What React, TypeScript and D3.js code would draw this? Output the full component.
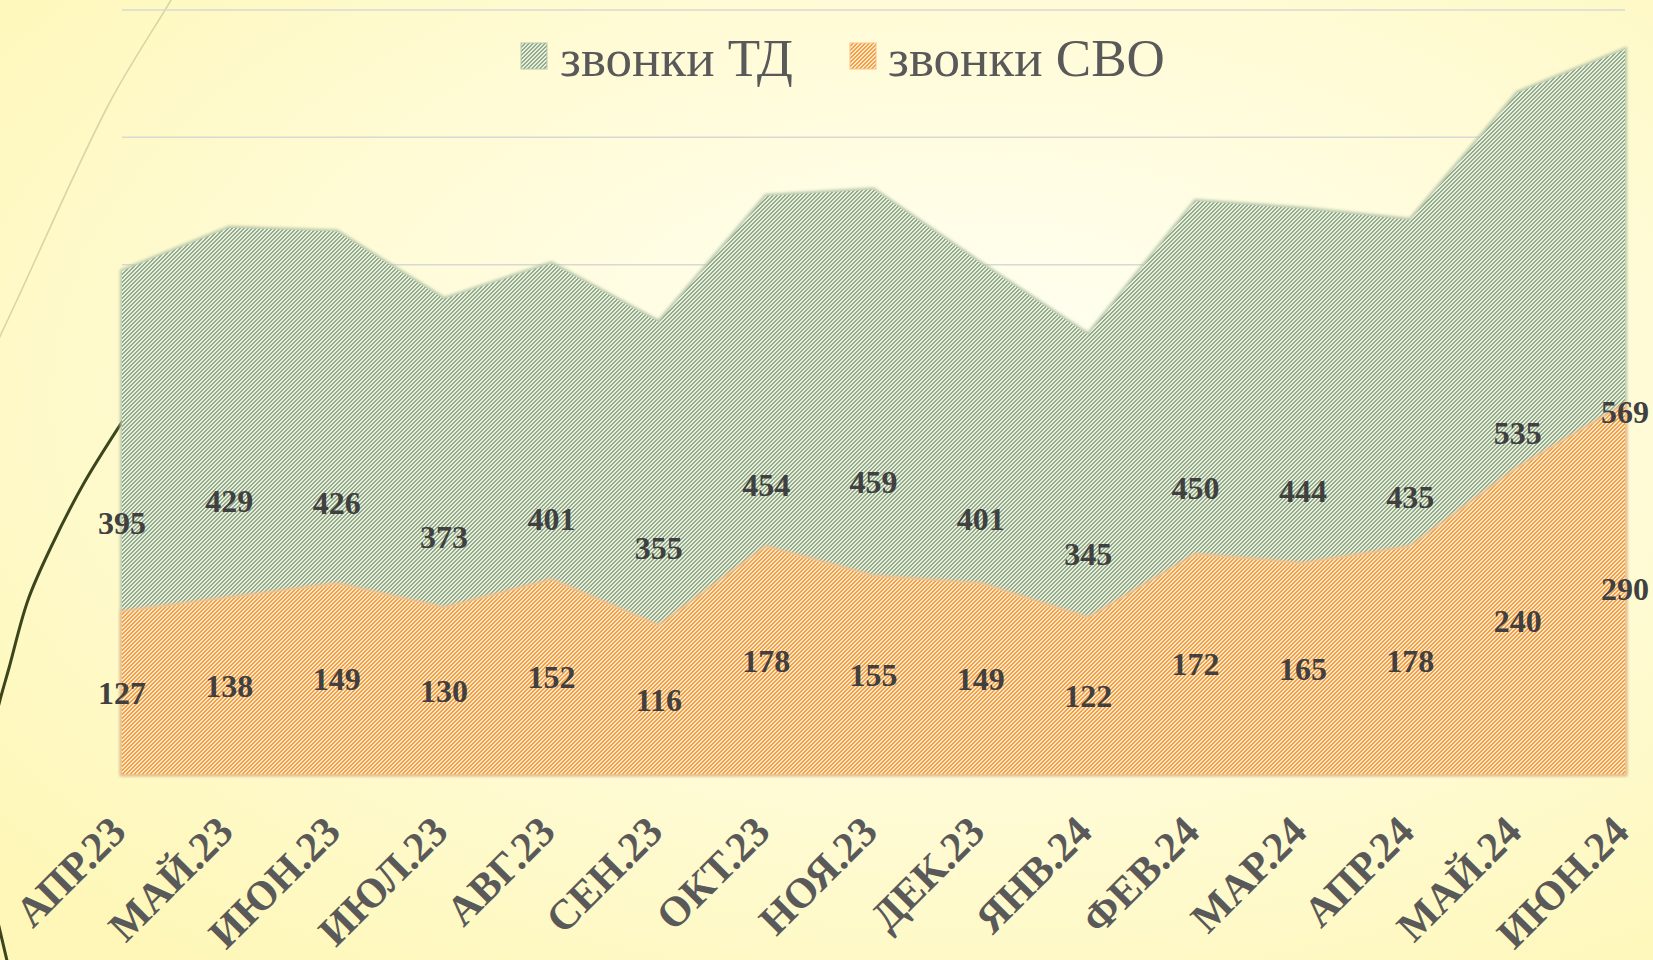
import React from "react";
import * as d3 from "d3";

const categories = ["АПР.23","МАЙ.23","ИЮН.23","ИЮЛ.23","АВГ.23","СЕН.23","ОКТ.23","НОЯ.23","ДЕК.23","ЯНВ.24","ФЕВ.24","МАР.24","АПР.24","МАЙ.24","ИЮН.24"];
const callsTD = [395,429,426,373,401,355,454,459,401,345,450,444,435,535,569];
const callsSVO = [127,138,149,130,152,116,178,155,149,122,172,165,178,240,290];
const yTicks = [0,100,200,300,400,500,600];
const seriesNames = ["звонки ТД","звонки СВО"];

const W = 1653, H = 960;
const plotLeft = 122, plotRight = 1625, plotTop = 10, plotBottom = 774;

export default function App() {
  const x = d3.scalePoint<string>().domain(categories).range([plotLeft, plotRight]);
  const y = d3.scaleLinear().domain([0, 600]).range([plotBottom, plotTop]);

  const area = d3.area<number>()
    .x((_, i) => x(categories[i]) as number)
    .y0(y(0))
    .y1(d => y(d));

  const tdPath = area(callsTD) || "";
  const svoPath = area(callsSVO) || "";

  const deco = d3.line<[number, number]>().curve(d3.curveCatmullRom.alpha(0.5));
  const thinLine = deco([[-4,345],[17,300],[111,100],[171,0],[176,-10]]) || "";
  const darkArc = deco([[-4,716],[0,700],[9,668],[28,600],[52,545],[84,483],[122,422],[160,365]]) || "";
  const darkArc2 = d3.line()([[-3,918],[8,965]]) || "";

  const serif = "'Liberation Serif','Times New Roman',serif";

  return (
    <svg width={W} height={H} style={{ position: "absolute", left: 0, top: 0 }} xmlns="http://www.w3.org/2000/svg">
      <defs>
        <radialGradient id="bg" cx="0.58" cy="0.42" r="0.75" fx="0.6" fy="0.4">
          <stop offset="0" stopColor="#fffff4" />
          <stop offset="0.55" stopColor="#fffbd6" />
          <stop offset="1" stopColor="#fef7b8" />
        </radialGradient>
        <pattern id="hatchG" width="4" height="4" patternUnits="userSpaceOnUse">
          <rect width="4" height="4" fill="#e8eee2" />
          <rect x="0" y="0" width="1" height="1" fill="#93ac86" />
          <rect x="3" y="1" width="1" height="1" fill="#93ac86" />
          <rect x="2" y="2" width="1" height="1" fill="#93ac86" />
          <rect x="1" y="3" width="1" height="1" fill="#93ac86" />
          <rect x="3" y="0" width="1" height="1" fill="#93ac86" />
          <rect x="2" y="1" width="1" height="1" fill="#93ac86" />
          <rect x="1" y="2" width="1" height="1" fill="#93ac86" />
          <rect x="0" y="3" width="1" height="1" fill="#93ac86" />
        </pattern>
        <pattern id="hatchO" width="4" height="4" patternUnits="userSpaceOnUse">
          <rect width="4" height="4" fill="#fde6cb" />
          <rect x="0" y="0" width="1" height="1" fill="#f4a040" />
          <rect x="3" y="1" width="1" height="1" fill="#f4a040" />
          <rect x="2" y="2" width="1" height="1" fill="#f4a040" />
          <rect x="1" y="3" width="1" height="1" fill="#f4a040" />
          <rect x="3" y="0" width="1" height="1" fill="#f4a040" />
          <rect x="2" y="1" width="1" height="1" fill="#f4a040" />
          <rect x="1" y="2" width="1" height="1" fill="#f4a040" />
          <rect x="0" y="3" width="1" height="1" fill="#f4a040" />
        </pattern>
        <filter id="soft" x="-5%" y="-5%" width="110%" height="110%">
          <feGaussianBlur stdDeviation="1.6" />
        </filter>
      </defs>

      <rect width={W} height={H} fill="url(#bg)" />

      <path d={thinLine} fill="none" stroke="#d9d6a6" strokeWidth={1.6} />
      <path d={darkArc} fill="none" stroke="#3c461d" strokeWidth={3} />
      <path d={darkArc2} fill="none" stroke="#3c461d" strokeWidth={3} />

      {yTicks.map(t => (
        <line key={t} x1={plotLeft} x2={plotRight} y1={y(t)} y2={y(t)} stroke="#d8d8d4" strokeWidth={1.5} />
      ))}

      <path d={tdPath} fill="none" stroke="#b7c7aa" strokeWidth={4} filter="url(#soft)" />
      <path d={tdPath} fill="url(#hatchG)" />
      <path d={svoPath} fill="none" stroke="#f7c088" strokeWidth={4} filter="url(#soft)" />
      <path d={svoPath} fill="url(#hatchO)" />

      {callsTD.map((v, i) => (
        <text key={"td" + i} x={x(categories[i])} y={y(v / 2)} textAnchor="middle" dominantBaseline="central"
          fontFamily={serif} fontWeight="bold" fontSize={32} fill="#404040">{v}</text>
      ))}
      {callsSVO.map((v, i) => (
        <text key={"svo" + i} x={x(categories[i])} y={y(v / 2)} textAnchor="middle" dominantBaseline="central"
          fontFamily={serif} fontWeight="bold" fontSize={32} fill="#404040">{v}</text>
      ))}

      {categories.map(c => (
        <text key={c} transform={`translate(${(x(c) as number) + 6},${834}) rotate(-45)`} textAnchor="end"
          fontFamily={serif} fontWeight="bold" fontSize={42} fill="#595959">{c}</text>
      ))}

      <g>
        <rect x={521} y={43} width={26} height={26} fill="url(#hatchG)" stroke="#b7c7aa" strokeWidth={1} />
        <text x={560} y={76} fontFamily={serif} fontSize={53} fill="#595959">{seriesNames[0]}</text>
        <rect x={850} y={43} width={26} height={26} fill="url(#hatchO)" stroke="#f7c088" strokeWidth={1} />
        <text x={888} y={76} fontFamily={serif} fontSize={53} fill="#595959">{seriesNames[1]}</text>
      </g>
    </svg>
  );
}
